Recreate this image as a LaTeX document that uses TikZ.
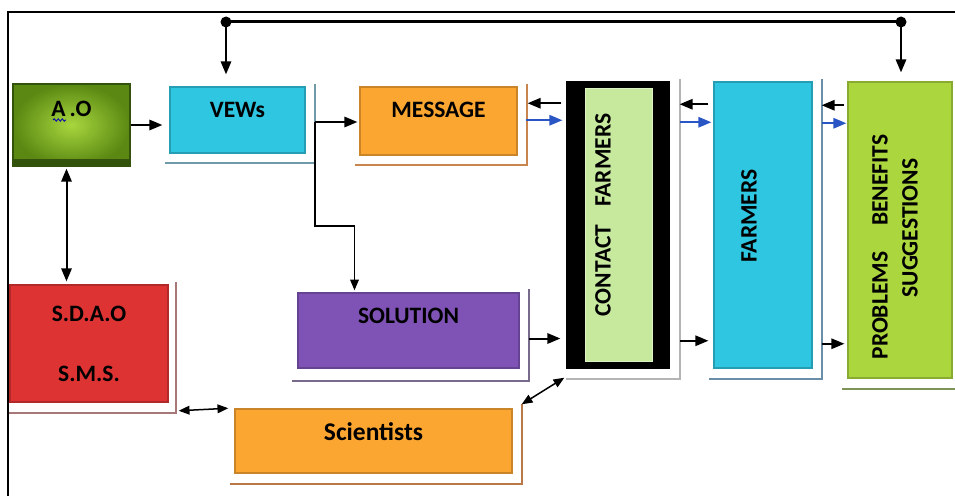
\documentclass[tikz,border=0pt]{standalone}
\usepackage{fontspec}
\setmainfont{Carlito}
\usetikzlibrary{arrows}
\usetikzlibrary{decorations.pathmorphing}

\definecolor{aogreen}{HTML}{5A8812}
\definecolor{aolight}{HTML}{A8D63E}
\definecolor{aodark}{HTML}{33520C}
\definecolor{vewcyan}{HTML}{2EC6E0}
\definecolor{msgorange}{HTML}{FCA632}
\definecolor{cfgreen}{HTML}{C6E99E}
\definecolor{pbsgreen}{HTML}{ACD63E}
\definecolor{sdaored}{HTML}{DD3333}
\definecolor{solpurple}{HTML}{7F52B6}
\definecolor{flowblue}{HTML}{2A55C4}
\definecolor{vewrim}{HTML}{6F9AAA}
\definecolor{msgrim}{HTML}{C8864E}
\definecolor{cfrim}{HTML}{B4B4B4}
\definecolor{fmrim}{HTML}{6A8EA8}
\definecolor{pbrim}{HTML}{7D9358}
\definecolor{sdaorim}{HTML}{A87878}
\definecolor{solrim}{HTML}{786A8C}
\definecolor{scirim}{HTML}{B87848}

\begin{document}
\begin{tikzpicture}[x=1pt,y=-1pt,>=triangle 45,
  every node/.style={font=\fontsize{23.5}{30}\selectfont\bfseries},
  box/.style={draw=#1!80!black,line width=1.5pt,fill=#1,inner sep=0pt},
  lift/.style={text height=15pt,text depth=#1},
  rim/.style={draw=#1,line width=1.8pt},
  flow/.style={->,line width=2pt},
  back/.style={->,line width=2pt,flowblue},
  twoway/.style={<->,line width=1.5pt}]
  \useasboundingbox (0,0) rectangle (955,495);
  \draw[line width=1.2pt] (8,520) -- (8,12) -- (980,12);

  % boxes
  \node[inner color=aolight,outer color=aogreen,draw=aodark,line width=1.5pt,
    minimum width=117pt,minimum height=82pt,inner sep=0pt,lift=33pt] (ao) at (71.5,125) {A\hspace{4pt}.O};
  \fill[aodark] ([yshift=8pt]ao.south west) rectangle (ao.south east);
  \draw[blue!70!black,line width=0.8pt,decorate,decoration={snake,amplitude=1.2pt,segment length=4pt}]
    (53,120) -- (66,120);
  \node[box=vewcyan,minimum width=135pt,minimum height=66pt,lift=20pt] (vews) at (237.5,120) {VEWs};
  \node[box=msgorange,minimum width=157pt,minimum height=68pt,lift=22pt] (msg) at (438.5,121) {MESSAGE};
  \node[box=black,minimum width=102pt,minimum height=286pt] (contact) at (618,225) {};
  \node[fill=cfgreen,draw=cfgreen!60!white,line width=1pt,minimum width=67pt,minimum height=273pt] (contactin) at (618.5,224.5) {};
  \node[rotate=90] (cftext) at (603,215) {CONTACT\hspace{18pt}FARMERS};
  \node[box=vewcyan,minimum width=98pt,minimum height=286pt] (farmers) at (763,225) {};
  \node[rotate=90] (fmtext) at (749,216) {FARMERS};
  \node[box=pbsgreen,minimum width=104pt,minimum height=296pt] (probs) at (900,230) {};
  \node[rotate=90,align=center] (pbtext) at (895,228) {PROBLEMS\hspace{26pt}BENEFITS\hspace*{38pt}\\SUGGESTIONS};
  \node[box=sdaored,minimum width=158pt,minimum height=117pt,align=center] (sdao) at (89,343.5) {S.D.A.O\\[30pt]S.M.S.};
  \node[box=solpurple,minimum width=221pt,minimum height=75pt,lift=29pt] (sol) at (408.5,330.5) {SOLUTION};
  \node[box=msgorange,minimum width=277pt,minimum height=64pt,lift=16pt,font=\fontsize{25.5}{30}\selectfont\bfseries] (sci) at (373.5,441) {Scientists};

  % rims
  \draw[rim=vewrim] ([xshift=9pt,yshift=2pt]vews.north east) |- ([xshift=-4pt,yshift=-9pt]vews.south west);
  \draw[rim=msgrim] ([xshift=9pt,yshift=2pt]msg.north east) |- ([xshift=-4pt,yshift=-9pt]msg.south west);
  \draw[rim=cfrim] ([xshift=10pt,yshift=2pt]contact.north east) |- ([yshift=-10pt]contact.south west);
  \draw[rim=fmrim] ([xshift=9pt,yshift=2pt]farmers.north east) |- ([xshift=-4pt,yshift=-10pt]farmers.south west);
  \draw[rim=pbrim] ([xshift=9pt,yshift=2pt]probs.north east) |- ([xshift=-5pt,yshift=-10pt]probs.south west);
  \draw[rim=sdaorim] ([xshift=7pt,yshift=2pt]sdao.north east) |- ([yshift=-10pt]sdao.south west);
  \draw[rim=solrim] ([xshift=9pt,yshift=3pt]sol.north east) |- ([xshift=-5pt,yshift=-12pt]sol.south west);
  \draw[rim=scirim] ([xshift=9pt,yshift=4pt]sci.north east) |- ([xshift=-4pt,yshift=-10pt]sci.south west);

  % top line
  \coordinate (busL) at (226,22);
  \coordinate (busR) at (901,22);
  \draw[line width=3pt] (busL) -- (busR);
  \fill (busL) circle (5.5pt);
  \fill (busR) circle (5.5pt);
  \draw[flow,shorten >=12pt] (busL) -- (busL |- vews.north);
  \draw[flow,shorten >=9pt] (busR) -- (busR |- probs.north);

  % connectors
  \draw[flow,shorten >=7pt] (ao.east) -- (ao.east -| vews.west);
  \draw[flow,shorten <=9pt,shorten >=2pt] ([yshift=-2pt]vews.east) -- ([yshift=-2pt]vews.east -| msg.west);
  \draw[flow,line width=1.5pt,shorten >=2pt] ([xshift=9pt,yshift=-2pt]vews.east) -- ++(0,104) -| ([xshift=-54pt]sol.north);
  \draw[twoway,line width=2pt,shorten <=2pt,shorten >=3pt] ([xshift=-5pt]ao.south) -- ([xshift=-5pt]ao.south |- sdao.north);
  \draw[twoway] ([xshift=10pt,yshift=-8pt]sdao.south east) -- ([xshift=-6pt]sci.north west);
  \draw[twoway] ([xshift=9pt,yshift=4pt]sci.north east) -- ([xshift=-2pt,yshift=-9pt]contact.south west);
  \draw[flow,shorten <=9pt,shorten >=6pt] ([yshift=-8pt]sol.east) -- ([yshift=-8pt]sol.east -| contact.west);
  \draw[flow,shorten <=10pt,shorten >=5pt] ([yshift=28pt]contact.south east) -- ([yshift=28pt]contact.south east -| farmers.west);
  \draw[flow,shorten <=9pt,shorten >=3pt] ([yshift=25pt]farmers.south east) -- ([yshift=25pt]farmers.south east -| probs.west);

  % feedback pairs
  \draw[flow,shorten <=5pt,shorten >=10pt] ([yshift=-22pt]contact.north west) -- ([yshift=-22pt]contact.north west -| msg.east);
  \draw[back,shorten <=8pt,shorten >=4pt] ([yshift=-39pt]contact.north west -| msg.east) -- ([yshift=-39pt]contact.north west);
  \draw[flow,shorten <=5pt,shorten >=10pt] ([yshift=-23pt]farmers.north west) -- ([yshift=-23pt]farmers.north west -| contact.east);
  \draw[back,shorten <=10pt,shorten >=2pt] ([yshift=-41pt]farmers.north west -| contact.east) -- ([yshift=-41pt]farmers.north west);
  \draw[flow,shorten <=3pt,shorten >=9pt] ([yshift=-24pt]probs.north west) -- ([yshift=-24pt]probs.north west -| farmers.east);
  \draw[back,shorten <=9pt,shorten >=1pt] ([yshift=-42pt]probs.north west -| farmers.east) -- ([yshift=-42pt]probs.north west);
\end{tikzpicture}
\end{document}
